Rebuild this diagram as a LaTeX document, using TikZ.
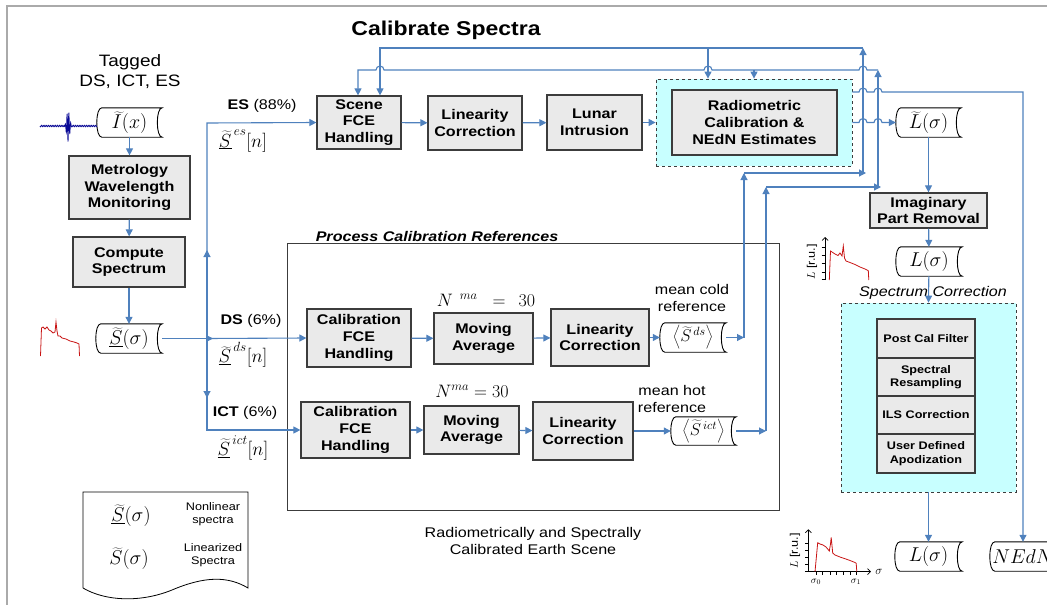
\RequirePackage{fix-cm}
\documentclass[tikz,border=0pt]{standalone}
\usepackage{fontspec}
\setmainfont{Liberation Sans}[FakeStretch=1.15]
\usetikzlibrary{arrows.meta,calc}
\definecolor{flowblue}{RGB}{79,129,189}
\definecolor{boxgray}{RGB}{234,234,234}
\definecolor{boxline}{RGB}{60,60,60}
\definecolor{cyanbg}{RGB}{200,255,255}
\definecolor{specred}{RGB}{200,20,20}
\definecolor{navyline}{RGB}{10,10,150}
\definecolor{framegray}{RGB}{170,170,170}
\newcommand\tapeoutline[1]{%
  \draw[black, line width=0.9pt] ([xshift=5pt]#1.north west) -- (#1.north east)
    .. controls ([xshift=-6.5pt]#1.north east) and ([xshift=-6.5pt]#1.south east) .. (#1.south east)
    -- ([xshift=5pt]#1.south west)
    .. controls ([xshift=-1.7pt]#1.south west) and ([xshift=-1.7pt]#1.north west) .. ([xshift=5pt]#1.north west);}
\tikzset{
  flow/.style={draw=flowblue, line width=1.1pt},
  arr/.style={flow, -{Triangle[length=7pt,width=7pt]}},
  procbox/.style={draw=boxline, fill=boxgray, line width=1.2pt, align=center, inner sep=0pt,
    font=\fontsize{14}{16.7}\selectfont\bfseries},
  cellbox/.style={draw=boxline, fill=boxgray, line width=1.2pt, align=center, inner sep=0pt,
    minimum width=98, font=\fontsize{11}{13.5}\selectfont\bfseries},
  wh/.style 2 args={minimum width=#1, minimum height=#2},
  tape/.style={inner sep=0pt, font=\fontsize{20}{22}\selectfont},
  dashbox/.style={draw=boxline, dashed, fill=cyanbg, line width=0.8pt, inner sep=0pt},
  lbl/.style={font=\fontsize{14}{16.7}\selectfont, align=center, inner sep=0pt},
  mathlbl/.style={font=\fontsize{19}{21}\selectfont, inner sep=0pt},
  plotlbl/.style={font=\fontsize{11}{12}\selectfont, inner sep=0pt},
}
\begin{document}
\begin{tikzpicture}[x=1pt,y=-1pt]
\useasboundingbox (0,0) rectangle (1047,605);
% frame
\draw[framegray, line width=1.5pt] (7,605) -- (7,6) -- (1047,6);

% titles
\node[font=\fontsize{20}{22}\selectfont\bfseries, inner sep=0pt] (title) at (446,30) {Calibrate Spectra};
\node[font=\fontsize{16.5}{20}\selectfont, align=center, inner sep=0pt] (tagged) at (130,72) {Tagged\\DS, ICT, ES};

% left column
\node[tape, wh={65}{29}] (Ii) at (129.5,122.5) {$\widetilde{I}(x)$};
\tapeoutline{Ii}
\node[procbox, wh={121}{63}] (metro) at (129.5,187.5) {Metrology\\Wavelength\\Monitoring};
\node[procbox, wh={112}{50}] (comp) at (129,262) {Compute\\Spectrum};
\node[tape, wh={66}{29}] (Sig) at (129,338.5) {$\underline{\widetilde{S}}(\sigma)$};
\tapeoutline{Sig}

% interferogram
\draw[navyline, line width=0.8pt] plot[domain=40:97, samples=200]
  (\x, {126 + 16*exp(-1*min(pow((\x-68)/2.0,2),30))*cos(200*(\x-68)) + 0.8*sin(160*(\x-40))});
% red spectrum
\draw[specred, line width=0.8pt] plot coordinates {(40.5,356) (41.5,328) (43,327) (45,329) (47,327) (49,330) (51,331) (53,333) (55,332) (56,322) (57,331) (58,336) (60,336) (62,338) (66,339) (70,341) (74,342) (77,343) (79,344) (79.5,356)};

% top row
\node[procbox, wh={84}{53}] (scene) at (359,122.5) {Scene\\FCE\\Handling};
\node[procbox, wh={94}{54}] (lin1) at (475,123) {Linearity\\Correction};
\node[procbox, wh={95}{55}] (lunar) at (594.5,122.5) {Lunar\\Intrusion};
\node[dashbox, wh={196}{87}] (radbox) at (754,122.5) {};
\node[procbox, wh={165}{65}] (rad) at (754.5,122.5) {Radiometric\\Calibration \&\\NEdN Estimates};
\node[tape, wh={65}{29}] (Lt) at (928.5,122.5) {$\widetilde{L}(\sigma)$};
\tapeoutline{Lt}
\node[procbox, wh={117}{35}] (imag) at (928.5,210.5) {Imaginary\\Part Removal};
\node[tape, wh={66}{29}] (Lmid) at (929,261.5) {$L(\sigma)$};
\tapeoutline{Lmid}

% spectrum correction
\node[font=\fontsize{14}{16}\selectfont\itshape, inner sep=0pt] (sclbl) at (933,293) {Spectrum Correction};
\node[dashbox, wh={175}{189}] (scbox) at (928.5,397.5) {};
\node[cellbox, minimum height=39] (c1) at (926,338.5) {Post Cal Filter};
\node[cellbox, minimum height=38] (c2) at (926,377) {Spectral\\Resampling};
\node[cellbox, minimum height=38] (c3) at (926,415) {ILS Correction};
\node[cellbox, minimum height=39] (c4) at (926,453.5) {User Defined\\Apodization};
\node[tape, wh={67}{29}] (Lbot) at (928.5,556.5) {$L(\sigma)$};
\tapeoutline{Lbot}
\node[tape, wh={66}{29}] (nedn) at (1023,556.5) {$NEdN$};
\tapeoutline{nedn}

% process calibration references
\node[draw=boxline, line width=1pt, wh={492}{267}, inner sep=0pt] (proc) at (533,376.5) {};
\node[font=\fontsize{14}{16}\selectfont\bfseries\itshape, inner sep=0pt] (proclbl) at (437,236) {Process Calibration References};
\node[procbox, wh={104}{58}] (calds) at (359,338) {Calibration\\FCE\\Handling};
\node[procbox, wh={99}{51}] (mads) at (483.5,338.5) {Moving\\Average};
\node[procbox, wh={98}{57}] (linds) at (600,337.5) {Linearity\\Correction};
\node[tape, wh={66}{29}, font=\fontsize{17}{19}\selectfont] (sds) at (693,337.5) {$\left\langle \widetilde{S}^{\,ds}\right\rangle$};
\tapeoutline{sds}
\node[procbox, wh={109}{56}] (calict) at (355.5,430) {Calibration\\FCE\\Handling};
\node[procbox, wh={95}{48}] (maict) at (471.5,430) {Moving\\Average};
\node[procbox, wh={100}{58}] (linict) at (583,431) {Linearity\\Correction};
\node[tape, wh={65}{28}, font=\fontsize{17}{19}\selectfont] (sict) at (703.5,431) {$\left\langle \widetilde{S}^{\,ict}\right\rangle$};
\tapeoutline{sict}

\node[mathlbl, font=\fontsize{18}{20}\selectfont] (nma1) at (486,300) {$N^{\;\;ma}\;\;=\;\,30$};
\node[mathlbl, font=\fontsize{18}{20}\selectfont] (nma2) at (472,391) {$N^{ma}=30$};
\node[lbl] (cold) at (692,298) {mean cold\\reference};
\node[lbl] (hot) at (672,399) {mean hot\\reference};

% branch labels
\node[lbl] (eslbl) at (262,106) {\textbf{ES} (88\%)};
\node[mathlbl] (esS) at (243,141) {$\underline{\widetilde{S}}^{\,es}[n]$};
\node[lbl] (dslbl) at (251,321) {\textbf{DS} (6\%)};
\node[mathlbl] (dsS) at (243,355) {$\underline{\widetilde{S}}^{\,ds}[n]$};
\node[lbl] (ictlbl) at (245,413) {\textbf{ICT} (6\%)};
\node[mathlbl] (ictS) at (243,448) {$\underline{\widetilde{S}}^{\,ict}[n]$};

\node[lbl] (bottomlbl) at (533,541) {Radiometrically and Spectrally\\Calibrated Earth Scene};

% legend
\draw[black, line width=0.8pt] (83,588) -- (83,492) -- (248,492) -- (248,588)
  .. controls (228,576) and (205,576) .. (172,590)
  .. controls (140,603) and (105,601) .. (83,588);
\node[font=\fontsize{20}{22}\selectfont, inner sep=0pt] (lg1) at (131,516) {$\underline{\widetilde{S}}(\sigma)$};
\node[font=\fontsize{11}{13}\selectfont, align=center, inner sep=0pt] (lg1t) at (213,514) {Nonlinear\\spectra};
\node[font=\fontsize{20}{22}\selectfont, inner sep=0pt] (lg2) at (129,559) {$\widetilde{S}(\sigma)$};
\node[font=\fontsize{11}{13}\selectfont, align=center, inner sep=0pt] (lg2t) at (213,555) {Linearized\\Spectra};

% small plot (middle right)
\draw[black, line width=0.7pt, -{Straight Barb[length=3pt]}] (825,280) -- (825,237);
\foreach \yy in {247,255,263,272,279} \draw[black, line width=0.6pt] (821.5,\yy) -- (825,\yy);
\node[plotlbl, rotate=90] (pl1) at (812,262) {$L$ [r.u.]};
\draw[specred, line width=0.8pt] plot coordinates {(829.3,280) (830.5,251) (832,252) (835,254) (838,255.5) (840,253) (842,256) (843.3,246) (844.5,258) (846,261) (850,262.5) (855,264.5) (860,267) (865,269) (868.3,270.7) (868.8,280)};

% small plot (bottom right)
\draw[black, line width=0.7pt, -{Straight Barb[length=3pt]}] (808.3,571.7) -- (808.3,529.3);
\draw[black, line width=0.7pt, -{Straight Barb[length=3pt]}] (805,571.7) -- (871,571.7);
\foreach \yy in {543.3,550.7,557.3,564} \draw[black, line width=0.6pt] (805,\yy) -- (808.3,\yy);
\foreach \xx in {816,822.7,830,836.7,843.3,850,856.7} \draw[black, line width=0.6pt] (\xx,571.7) -- (\xx,575);
\node[plotlbl, rotate=90] (pl2) at (795,551) {$L$ [r.u.]};
\node[plotlbl, font=\fontsize{10}{11}\selectfont] (s0) at (816,582) {$\sigma_0$};
\node[plotlbl, font=\fontsize{10}{11}\selectfont] (s1) at (856,582) {$\sigma_1$};
\node[plotlbl, font=\fontsize{12}{13}\selectfont] (sx) at (879,572) {$\sigma$};
\draw[specred, line width=0.8pt] plot coordinates {(815,571.7) (817.7,542.7) (820,544) (823,545) (826,547) (829.3,551) (830.5,544) (831.2,537.3) (832.7,553) (835,555) (840,557) (845,558.7) (850,560.5) (855,562.5) (856.2,563.3) (856.8,571.7)};

% ---------- connectors ----------
\coordinate (jS) at (207,338.5);
\coordinate (jUp) at (207,123);
\coordinate (jDn) at (207,430);
\draw[arr] (Ii) -- (metro);
\draw[arr] (metro) -- (comp);
\draw[arr] (comp) -- (Sig);
\draw[arr] (Sig.east) -- ([xshift=6pt]jS);
\draw[arr] (jS) -- (calds.west);
\draw[arr] (jS) -- (207,250);
\draw[arr] (207,252) -- (jUp) -- (scene.west);
\draw[arr] (jS) -- (207,398);
\draw[arr] (207,396) -- (jDn) -- (calict.west);

\draw[arr] (scene) -- (lin1);
\draw[arr] (lin1) -- (lunar);
\draw[arr] (lunar) -- (radbox.west);
\draw[arr] (calds) -- (mads);
\draw[arr] (mads) -- (linds);
\draw[arr] (linds) -- (sds);
\draw[arr] (calict) -- (maict);
\draw[arr] (maict) -- (linict);
\draw[arr] (linict) -- (sict);

% outputs of radiometric calibration
\draw[arr] (radbox.east |- 0,122.5) -- (859,122.5) arc[start angle=180,end angle=360,radius=4]
  -- (874,122.5) arc[start angle=180,end angle=360,radius=4] -- (Lt.west);
\coordinate (nednc) at (1023,92);
\draw[arr] (radbox.east |- 0,92) -- (859,92) arc[start angle=180,end angle=360,radius=4]
  -- (874,92) arc[start angle=180,end angle=360,radius=4] -- (nednc) -- (nedn.north);

% DS reference return path
\coordinate (d1) at (744,337.5);
\coordinate (d2) at (744,173);
\coordinate (d3) at (863,173);
\coordinate (d4) at (863,48);
\coordinate (d5) at (380,48);
\coordinate (d6) at (708,48);
\draw[arr] (sds.east) -- (d1);
\draw[arr] (d1) -- (d2);
\draw[arr] (d2) -- ([xshift=3pt]d3);
\draw[arr] (d3) -- (d4);
\draw[arr] (d4) -- (d5) -- (d5 |- scene.north);
\draw[arr] (d6) -- (d6 |- radbox.north);

% ICT reference return path
\coordinate (i1) at (766,431);
\coordinate (i2) at (766,187);
\coordinate (i3) at (878,187);
\coordinate (i4) at (878,70);
\coordinate (i5) at (358,70);
\coordinate (i6) at (754,70);
\draw[arr] (sict.east) -- (i1);
\draw[arr] (i1) -- (i2);
\draw[arr] (i2) -- ([xshift=3pt]i3);
\draw[arr] (i3) -- (i4);
\draw[arr] (i4) -- (867,70) arc[start angle=0,end angle=-180,radius=4]
  -- (712,70) arc[start angle=0,end angle=-180,radius=4]
  -- (384,70) arc[start angle=0,end angle=-180,radius=4]
  -- (i5) -- (i5 |- scene.north);
\draw[arr] (i6) -- (i6 |- radbox.north);

% spectrum chain
\draw[arr] (Lt) -- (imag);
\draw[arr] (imag) -- (Lmid);
\draw[arr] (Lmid) -- (scbox.north);
\draw[arr] (scbox.south) -- (Lbot);
\end{tikzpicture}
\end{document}
